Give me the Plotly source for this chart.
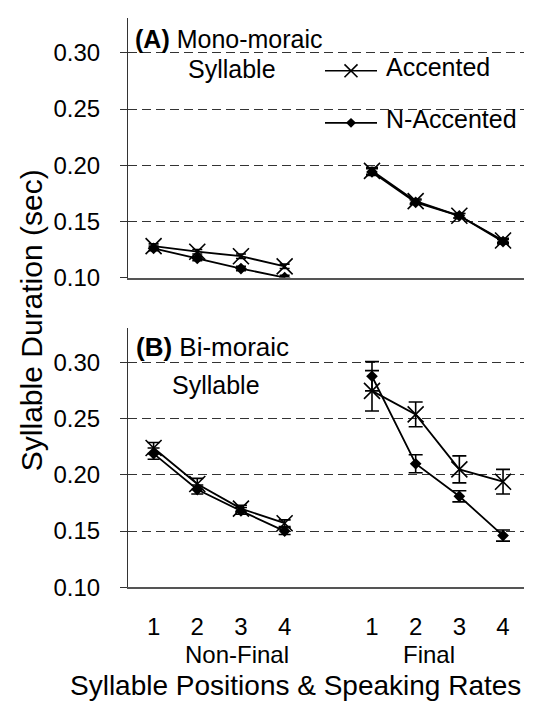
import plotly.graph_objects as go

# ---------------- data ----------------
x_nonfinal = [1, 2, 3, 4]
x_final = [6, 7, 8, 9]
tick_vals = [1, 2, 3, 4, 6, 7, 8, 9]
tick_text = ["1", "2", "3", "4", "1", "2", "3", "4"]
group_labels = ["Non-Final", "Final"]
group_centers = [2.9, 7.3]
y_ticks = [0.10, 0.15, 0.20, 0.25, 0.30]

# Panel A: mono-moraic syllable
mono_acc_nonfinal = [0.128, 0.123, 0.119, 0.110]
mono_acc_nonfinal_err = [0.002, 0.002, 0.002, 0.002]
mono_nacc_nonfinal = [0.126, 0.117, 0.108, 0.100]
mono_nacc_nonfinal_err = [0.002, 0.002, 0.002, 0.002]
mono_acc_final = [0.195, 0.168, 0.155, 0.133]
mono_acc_final_err = [0.003, 0.002, 0.002, 0.002]
mono_nacc_final = [0.194, 0.167, 0.155, 0.132]
mono_nacc_final_err = [0.003, 0.002, 0.002, 0.002]

# Panel B: bi-moraic syllable
bi_acc_nonfinal = [0.224, 0.192, 0.170, 0.157]
bi_acc_nonfinal_err = [0.005, 0.005, 0.003, 0.003]
bi_nacc_nonfinal = [0.219, 0.187, 0.168, 0.150]
bi_nacc_nonfinal_err = [0.005, 0.004, 0.003, 0.003]
bi_acc_final = [0.275, 0.254, 0.205, 0.194]
bi_acc_final_err = [0.018, 0.011, 0.012, 0.011]
bi_nacc_final = [0.288, 0.210, 0.181, 0.146]
bi_nacc_final_err = [0.013, 0.008, 0.005, 0.005]

# ---------------- style ----------------
W, H = 547, 708
FONT = "Liberation Sans, Arial, Helvetica, sans-serif"


def fx(p):
    return p / W


def fy(p):
    return 1 - p / H


fig = go.Figure()


def add_series(x, y, err, xa, ya, kind, cap):
    if kind == "acc":
        marker = dict(symbol="x-thin", size=16, color="black",
                      line=dict(width=1.6, color="black"))
    else:
        marker = dict(symbol="diamond", size=9, color="black",
                      line=dict(width=0, color="black"))
    fig.add_trace(go.Scatter(
        x=x, y=y, xaxis=xa, yaxis=ya, mode="lines+markers",
        line=dict(color="black", width=1.8), marker=marker,
        error_y=dict(type="data", array=err, visible=True, color="black",
                     thickness=1.6, width=cap),
        showlegend=False, hoverinfo="skip"))


add_series(x_nonfinal, mono_nacc_nonfinal, mono_nacc_nonfinal_err, "x", "y", "nacc", 5)
add_series(x_nonfinal, mono_acc_nonfinal, mono_acc_nonfinal_err, "x", "y", "acc", 5)
add_series(x_final, mono_nacc_final, mono_nacc_final_err, "x", "y", "nacc", 6)
add_series(x_final, mono_acc_final, mono_acc_final_err, "x", "y", "acc", 6)

add_series(x_nonfinal, bi_nacc_nonfinal, bi_nacc_nonfinal_err, "x2", "y2", "nacc", 6)
add_series(x_nonfinal, bi_acc_nonfinal, bi_acc_nonfinal_err, "x2", "y2", "acc", 6)
add_series(x_final, bi_nacc_final, bi_nacc_final_err, "x2", "y2", "nacc", 7)
add_series(x_final, bi_acc_final, bi_acc_final_err, "x2", "y2", "acc", 7)

tickfont = dict(family=FONT, size=24, color="black")
xr = [0.414, 9.48]
yr = [0.10, 0.331]
X0, X1 = 120, 516

common_x = dict(range=xr, domain=[fx(X0), fx(X1)], showline=True, linecolor="#555",
                linewidth=1.5, showgrid=False, zeroline=False, ticks="",
                tickvals=tick_vals, ticktext=tick_text, tickfont=tickfont,
                fixedrange=True)
common_y = dict(range=yr, tickvals=y_ticks, tickformat=".2f", ticks="outside",
                ticklen=7, tickcolor="#333", tickwidth=1, showline=True,
                linecolor="#333", linewidth=1, showgrid=True, gridcolor="#333",
                gridwidth=1, griddash="9px,5px", zeroline=False,
                tickfont=tickfont, ticklabelstandoff=15, fixedrange=True)

fig.update_layout(
    width=W, height=H, autosize=False,
    margin=dict(l=0, r=0, t=0, b=0),
    paper_bgcolor="white", plot_bgcolor="white",
    font=dict(family=FONT, color="black"),
    showlegend=False,
    xaxis=dict(common_x, anchor="y", showticklabels=False),
    yaxis=dict(common_y, anchor="x", domain=[fy(274.6), fy(10.3)]),
    xaxis2=dict(common_x, anchor="y2", showticklabels=True, ticklabelstandoff=17),
    yaxis2=dict(common_y, anchor="x2", domain=[fy(590), fy(326)]),
)

# white area behind the legend (covers gridlines)
fig.add_shape(type="rect", xref="paper", yref="paper", layer="between",
              x0=fx(304), x1=fx(X1 + 2), y0=fy(138), y1=fy(28),
              fillcolor="white", line=dict(width=0))

# manual legend
leg_x0, leg_x1, leg_xm = 317, 369, 343
leg_rows = [("Accented", 64, "acc"), ("N-Accented", 117, "nacc")]
for name, ypx, kind in leg_rows:
    fig.add_shape(type="line", xref="paper", yref="paper",
                  x0=fx(leg_x0), x1=fx(leg_x1), y0=fy(ypx), y1=fy(ypx),
                  line=dict(color="black", width=1.6))
    if kind == "acc":
        s = 6.5
        for d in (1, -1):
            fig.add_shape(type="line", xref="paper", yref="paper",
                          x0=fx(leg_xm - s), x1=fx(leg_xm + s),
                          y0=fy(ypx - s * d), y1=fy(ypx + s * d),
                          line=dict(color="black", width=1.6))
    else:
        s = 5
        path = (f"M {fx(leg_xm - s)} {fy(ypx)} L {fx(leg_xm)} {fy(ypx - s)} "
                f"L {fx(leg_xm + s)} {fy(ypx)} L {fx(leg_xm)} {fy(ypx + s)} Z")
        fig.add_shape(type="path", xref="paper", yref="paper", path=path,
                      fillcolor="black", line=dict(color="black", width=0))
    fig.add_annotation(text=name, xref="paper", yref="paper",
                       x=fx(376), y=fy(ypx - 3.5), xanchor="left", yanchor="middle",
                       showarrow=False, font=dict(family=FONT, size=25, color="black"))

# panel labels
ann_font = dict(family=FONT, size=25, color="black")
fig.add_annotation(text="<b>(A)</b> Mono-moraic", xref="paper", yref="paper",
                   x=fx(125), y=fy(32), xanchor="left", yanchor="middle",
                   showarrow=False, font=ann_font)
fig.add_annotation(text="Syllable", xref="paper", yref="paper",
                   x=fx(224), y=fy(62), xanchor="center", yanchor="middle",
                   showarrow=False, font=ann_font)
fig.add_annotation(text="<b>(B)</b> Bi-moraic", xref="paper", yref="paper",
                   x=fx(126), y=fy(345), xanchor="left", yanchor="middle",
                   showarrow=False, font=dict(family=FONT, size=26, color="black"))
fig.add_annotation(text="Syllable", xref="paper", yref="paper",
                   x=fx(208), y=fy(384), xanchor="center", yanchor="middle",
                   showarrow=False, font=ann_font)

# group labels under the x axis
for lab, xc in zip(group_labels, group_centers):
    fig.add_annotation(text=lab, xref="x2", yref="paper", x=xc, y=fy(659),
                       xanchor="center", yanchor="middle", showarrow=False,
                       font=dict(family=FONT, size=24, color="black"))

# axis titles
fig.add_annotation(text="Syllable Positions & Speaking Rates", xref="paper",
                   yref="paper", x=fx(287), y=fy(690), xanchor="center",
                   yanchor="middle", showarrow=False,
                   font=dict(family=FONT, size=28, color="black"))
fig.add_annotation(text="Syllable Duration (sec)", xref="paper", yref="paper",
                   x=fx(23), y=fy(318), xanchor="center", yanchor="middle",
                   textangle=-90, showarrow=False,
                   font=dict(family=FONT, size=30, color="black"))

fig.write_html("out.html")
